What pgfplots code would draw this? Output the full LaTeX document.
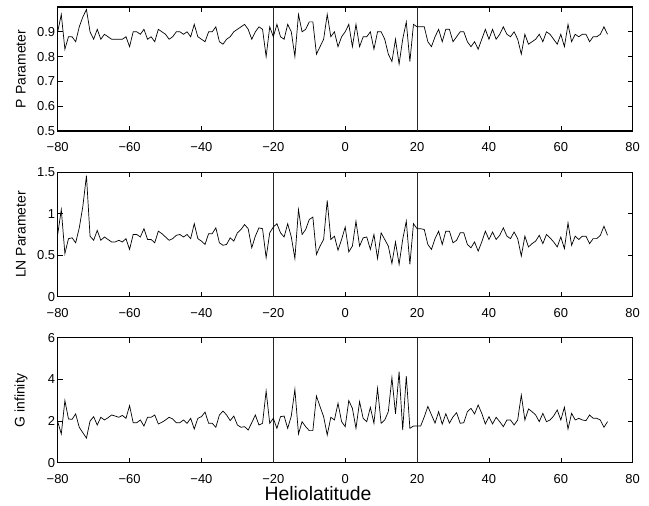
\documentclass[border=0pt]{standalone}
\usepackage{pgfplots}
\usepackage{pgfplotstable}
\pgfplotsset{compat=1.18}
\usepackage{fontspec}
\setmainfont{Liberation Sans}

\pgfplotstableread{
x y
-80 0.90
-79 0.97
-78 0.83
-77 0.88
-76 0.88
-75 0.86
-74 0.92
-73 0.96
-72 0.99
-71 0.90
-70 0.87
-69 0.91
-68 0.87
-67 0.89
-66 0.88
-65 0.87
-64 0.87
-63 0.87
-62 0.87
-61 0.88
-60 0.84
-59 0.90
-58 0.90
-57 0.89
-56 0.91
-55 0.87
-54 0.88
-53 0.86
-52 0.91
-51 0.90
-50 0.89
-49 0.87
-48 0.88
-47 0.90
-46 0.90
-45 0.89
-44 0.90
-43 0.88
-42 0.93
-41 0.88
-40 0.87
-39 0.86
-38 0.90
-37 0.90
-36 0.92
-35 0.86
-34 0.85
-33 0.87
-32 0.88
-31 0.90
-30 0.91
-29 0.92
-28 0.93
-27 0.91
-26 0.87
-25 0.90
-24 0.92
-23 0.91
-22 0.80
-21 0.92
-20 0.88
-19 0.93
-18 0.88
-17 0.87
-16 0.93
-15 0.90
-14 0.80
-13 0.97
-12 0.90
-11 0.91
-10 0.94
-9 0.94
-8 0.81
-7 0.84
-6 0.87
-5 0.97
-4 0.88
-3 0.90
-2 0.84
-1 0.88
0 0.90
1 0.93
2 0.84
3 0.93
4 0.84
5 0.88
6 0.88
7 0.90
8 0.83
9 0.90
10 0.90
11 0.87
12 0.81
13 0.78
14 0.87
15 0.77
16 0.87
17 0.94
18 0.78
19 0.93
20 0.92
21 0.92
22 0.92
23 0.86
24 0.84
25 0.88
26 0.91
27 0.86
28 0.91
29 0.91
30 0.86
31 0.88
32 0.90
33 0.90
34 0.86
35 0.84
36 0.86
37 0.83
38 0.87
39 0.91
40 0.87
41 0.91
42 0.87
43 0.89
44 0.92
45 0.89
46 0.88
47 0.90
48 0.87
49 0.81
50 0.89
51 0.85
52 0.86
53 0.87
54 0.89
55 0.86
56 0.90
57 0.89
58 0.87
59 0.85
60 0.89
61 0.84
62 0.93
63 0.86
64 0.89
65 0.88
66 0.89
67 0.89
68 0.86
69 0.88
70 0.88
71 0.89
72 0.92
73 0.89
}\Pdata

\pgfplotstableread{
x y
-80 0.75
-79 1.05
-78 0.52
-77 0.70
-76 0.71
-75 0.65
-74 0.83
-73 1.09
-72 1.46
-71 0.73
-70 0.68
-69 0.80
-68 0.68
-67 0.72
-66 0.69
-65 0.66
-64 0.66
-63 0.68
-62 0.66
-61 0.70
-60 0.57
-59 0.75
-58 0.75
-57 0.72
-56 0.82
-55 0.69
-54 0.69
-53 0.65
-52 0.79
-51 0.76
-50 0.72
-49 0.68
-48 0.70
-47 0.74
-46 0.75
-45 0.72
-44 0.75
-43 0.70
-42 0.88
-41 0.70
-40 0.67
-39 0.63
-38 0.76
-37 0.76
-36 0.83
-35 0.65
-34 0.62
-33 0.63
-32 0.71
-31 0.67
-30 0.77
-29 0.81
-28 0.87
-27 0.82
-26 0.59
-25 0.73
-24 0.83
-23 0.82
-22 0.47
-21 0.77
-20 0.84
-19 0.88
-18 0.77
-17 0.72
-16 0.88
-15 0.72
-14 0.46
-13 1.05
-12 0.75
-11 0.81
-10 0.93
-9 0.96
-8 0.51
-7 0.61
-6 0.69
-5 1.16
-4 0.69
-3 0.73
-2 0.56
-1 0.69
0 0.84
1 0.54
2 0.61
3 0.91
4 0.61
5 0.71
6 0.72
7 0.57
8 0.75
9 0.46
10 0.77
11 0.69
12 0.61
13 0.40
14 0.66
15 0.39
16 0.69
17 0.91
18 0.39
19 0.88
20 0.82
21 0.82
22 0.81
23 0.63
24 0.57
25 0.70
26 0.79
27 0.63
28 0.79
29 0.79
30 0.65
31 0.68
32 0.77
33 0.77
34 0.63
35 0.59
36 0.66
37 0.55
38 0.66
39 0.79
40 0.69
41 0.78
42 0.69
43 0.74
44 0.83
45 0.73
46 0.70
47 0.78
48 0.70
49 0.49
50 0.73
51 0.60
52 0.64
53 0.67
54 0.74
55 0.64
56 0.75
57 0.71
58 0.66
59 0.60
60 0.72
61 0.58
62 0.89
63 0.62
64 0.73
65 0.69
66 0.73
67 0.73
68 0.64
69 0.70
70 0.70
71 0.74
72 0.85
73 0.74
}\LNdata

\pgfplotstableread{
x y
-80 1.97
-79 1.38
-78 2.98
-77 2.10
-76 2.08
-75 2.34
-74 1.70
-73 1.44
-72 1.18
-71 2.00
-70 2.21
-69 1.81
-68 2.18
-67 2.05
-66 2.16
-65 2.29
-64 2.24
-63 2.18
-62 2.27
-61 2.13
-60 2.74
-59 1.92
-58 1.92
-57 2.05
-56 1.76
-55 2.18
-54 2.18
-53 2.29
-52 1.86
-51 1.94
-50 2.05
-49 2.18
-48 2.10
-47 1.92
-46 1.92
-45 2.05
-44 1.89
-43 2.13
-42 1.62
-41 2.13
-40 2.21
-39 2.43
-38 1.89
-37 1.89
-36 1.70
-35 2.29
-34 2.48
-33 2.29
-32 2.02
-31 2.24
-30 1.81
-29 1.70
-28 1.73
-27 1.57
-26 1.92
-25 2.29
-24 1.81
-23 1.89
-22 3.44
-21 1.89
-20 2.13
-19 1.65
-18 2.21
-17 2.24
-16 1.65
-15 2.24
-14 3.52
-13 1.38
-12 1.97
-11 1.73
-10 1.54
-9 1.54
-8 3.20
-7 2.69
-6 2.21
-5 1.33
-4 2.18
-3 2.05
-2 2.85
-1 1.97
0 1.73
1 2.98
2 2.61
3 1.65
4 2.93
5 2.13
6 1.97
7 2.66
8 1.89
9 3.57
10 1.89
11 2.05
12 2.45
13 4.08
14 2.34
15 4.37
16 1.57
17 4.16
18 1.65
19 1.76
20 1.76
21 1.76
22 2.20
23 2.70
24 2.30
25 1.90
26 2.45
27 1.85
28 2.35
29 1.90
30 2.20
31 2.40
32 1.89
33 1.92
34 2.45
35 2.61
36 2.34
37 2.77
38 2.37
39 1.86
40 2.21
41 1.86
42 2.18
43 1.97
44 1.73
45 2.05
46 2.05
47 1.81
48 2.05
49 3.25
50 2.05
51 2.58
52 2.45
53 2.29
54 1.97
55 2.37
56 1.97
57 2.05
58 2.24
59 2.53
60 2.05
61 2.66
62 1.62
63 2.37
64 2.05
65 2.13
66 2.05
67 2.02
68 2.29
69 2.13
70 2.13
71 2.05
72 1.70
73 1.97
}\Gdata

\pgfplotsset{
  panel/.style={
    scale only axis, width=575bp, anchor=south west,
    xmin=-80, xmax=80,
    xtick={-80,-60,-40,-20,0,20,40,60,80},
    xticklabels={−80,−60,−40,−20,0,20,40,60,80},
    tick align=inside, major tick length=5bp,
    tick style={black, line width=0.6bp},
    axis line style={line width=1.1bp},
    ticklabel style={font=\fontsize{13}{15}\selectfont},
    xticklabel style={inner sep=1bp, yshift=-10.3bp},
    yticklabel style={xshift=1bp},
    /pgf/number format/assume math mode=true,
    every axis y label/.style={at={(rel axis cs:0,0.5)}, xshift=-36.7bp,
      rotate=90, anchor=center, font=\fontsize{14}{16}\selectfont},
  },
  dataline/.style={black, line width=0.7bp},
  vline/.style={black!85, line width=0.8bp},
}

\begin{document}
\begin{tikzpicture}
\path[use as bounding box] (0,0) rectangle (649bp,506bp);

\begin{axis}[panel, at={(57.7bp,375bp)}, height=124bp,
  ymin=0.5, ymax=1, ytick={0.5,0.6,0.7,0.8,0.9},
  yticklabels={0.5,0.6,0.7,0.8,0.9},
  ylabel={P Parameter}]
\addplot[vline] coordinates {(-20,0.5) (-20,1)};
\addplot[vline] coordinates {(20,0.5) (20,1)};
\addplot[dataline] table[x=x,y=y] {\Pdata};
\end{axis}

\begin{axis}[panel, at={(57.7bp,209.3bp)}, height=124.4bp,
  ymin=0, ymax=1.5, ytick={0,0.5,1,1.5},
  yticklabels={0,0.5,1,1.5},
  ylabel={LN Parameter}]
\addplot[vline] coordinates {(-20,0) (-20,1.5)};
\addplot[vline] coordinates {(20,0) (20,1.5)};
\addplot[dataline] table[x=x,y=y] {\LNdata};
\end{axis}

\begin{axis}[panel, at={(57.7bp,43.3bp)}, height=125bp,
  ymin=0, ymax=6, ytick={0,2,4,6},
  yticklabels={0,2,4,6},
  ylabel={G infinity},
  xlabel={Heliolatitude},
  every axis x label/.style={at={(rel axis cs:0.4527,0)}, yshift=-30.5bp,
    anchor=center, inner sep=0pt, font=\fontsize{19.5}{22}\selectfont},
  ]
\addplot[vline] coordinates {(-20,0) (-20,6)};
\addplot[vline] coordinates {(20,0) (20,6)};
\addplot[dataline] table[x=x,y=y] {\Gdata};
\end{axis}
\end{tikzpicture}
\end{document}
